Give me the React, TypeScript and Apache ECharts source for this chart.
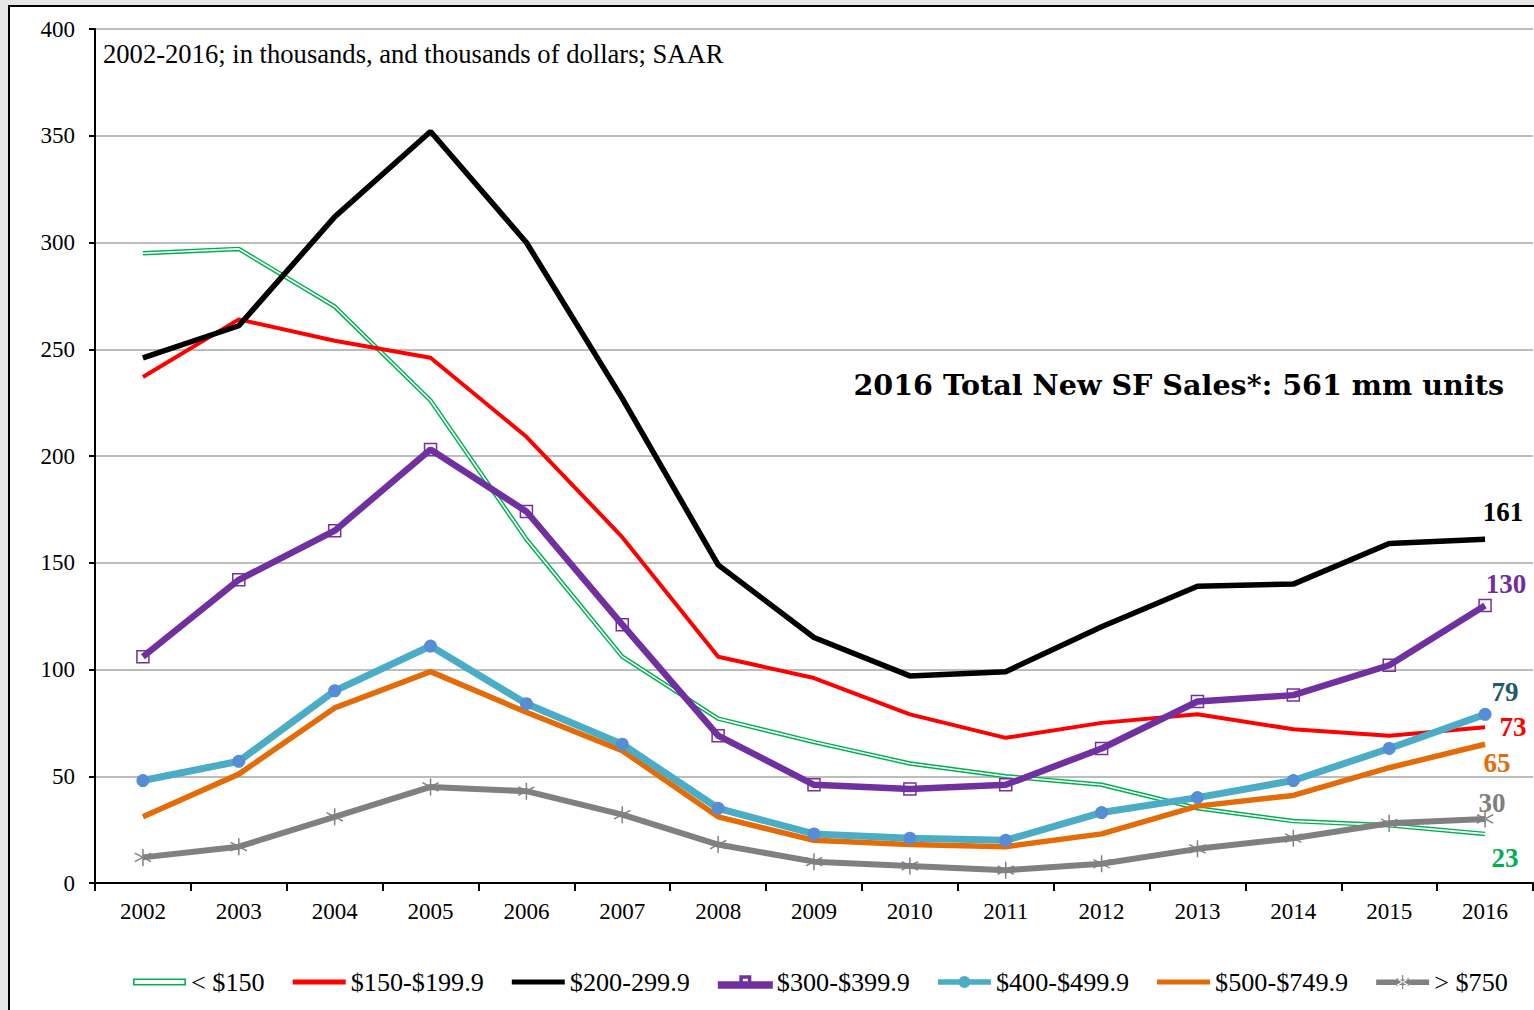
import React, { useEffect, useRef } from "react";
import * as echarts from "echarts";

const years = ["2002", "2003", "2004", "2005", "2006", "2007", "2008", "2009", "2010", "2011", "2012", "2013", "2014", "2015", "2016"];
const under150 = [295, 297, 270, 226, 161, 106, 77, 66, 56, 50, 46, 35, 29, 27, 23];
const r150to199 = [237, 264, 254, 246, 209, 162, 106, 96, 79, 68, 75, 79, 72, 69, 73];
const r200to299 = [246, 261, 312, 352, 300, 227, 149, 115, 97, 99, 120, 139, 140, 159, 161];
const r300to399 = [106, 142, 165, 203, 174, 121, 69, 46, 44, 46, 63, 85, 88, 102, 130];
const r400to499 = [48, 57, 90, 111, 84, 65, 35, 23, 21, 20, 33, 40, 48, 63, 79];
const r500to749 = [31, 51, 82, 99, 80, 62, 31, 20, 18, 17, 23, 36, 41, 54, 65];
const over750 = [12, 17, 31, 45, 43, 32, 18, 10, 8, 6, 9, 16, 21, 28, 30];
const yTicks = [0, 50, 100, 150, 200, 250, 300, 350, 400];

const subtitle = "2002-2016; in thousands, and thousands of dollars; SAAR";
const headline = "2016 Total New SF Sales*: 561 mm units";

const SERIF = "'Liberation Serif', 'Times New Roman', serif";

const ASTERISK =
  "path://M9.2,0H10.8V20H9.2Z M18.26,15.69L19.06,14.31L1.74,4.31L0.94,5.69Z M19.06,5.69L18.26,4.31L0.94,14.31L1.74,15.69Z";

const ICON_GREEN = "path://M0,0H53V7H0Z M1.6,1.6V5.4H51.4V1.6Z";
const ICON_LINE = "path://M0,0H53V5H0Z";
const ICON_PURPLE = "path://M0,6H53V11.5H0Z M21.5,0H31.5V10H21.5Z M23,1.5V8.5H30V1.5Z";
const ICON_CYAN = "path://M0,4.5H53V10H0Z M20.5,7.25A6,6 0 1 1 32.5,7.25A6,6 0 1 1 20.5,7.25Z";
const ICON_GREY =
  "path://M0,4.5H53V10H0Z M25.9,0H27.1V14H25.9Z M32.26,11.02L32.86,9.98L20.74,2.98L20.14,4.02Z M32.86,4.02L32.26,2.98L20.14,9.98L20.74,11.02Z";

function withEndLabel(values: number[], color: string, offset: [number, number], extra: any = {}) {
  return values.map((v, i) =>
    i === values.length - 1
      ? {
          value: v,
          ...extra,
          label: {
            show: true,
            position: "inside",
            offset,
            formatter: String(v),
            color,
            fontFamily: SERIF,
            fontWeight: "bold",
            fontSize: 27,
            align: "center",
            verticalAlign: "middle",
          },
        }
      : v
  );
}

export default function App() {
  const ref = useRef<HTMLDivElement>(null);

  useEffect(() => {
    if (!ref.current) return;
    const chart = echarts.init(ref.current, undefined, { renderer: "svg" });
    const hidden = { symbol: "circle", symbolSize: 0 };
    const option: any = {
      animation: false,
      backgroundColor: "transparent",
      textStyle: { fontFamily: SERIF },
      grid: { left: 95, right: 1, top: 29, bottom: 127, containLabel: false },
      legend: {
        left: 128,
        top: 964,
        itemWidth: 53,
        itemHeight: 14,
        itemGap: 28,
        textStyle: { fontFamily: SERIF, fontSize: 26.2, color: "#000" },
        data: [
          { name: "< $150", icon: ICON_GREEN, itemStyle: { color: "#00b050" } },
          { name: "$150-$199.9", icon: ICON_LINE, itemStyle: { color: "#ff0000" } },
          { name: "$200-299.9", icon: ICON_LINE, itemStyle: { color: "#000000" } },
          { name: "$300-$399.9", icon: ICON_PURPLE, itemStyle: { color: "#7030a0" } },
          { name: "$400-$499.9", icon: ICON_CYAN, itemStyle: { color: "#4bacc6" } },
          { name: "$500-$749.9", icon: ICON_LINE, itemStyle: { color: "#e36c09" } },
          { name: "> $750", icon: ICON_GREY, itemStyle: { color: "#808080" } },
        ],
      },
      xAxis: {
        type: "category",
        data: years,
        boundaryGap: true,
        axisLine: { show: true, lineStyle: { color: "#000", width: 2 } },
        axisTick: { show: true, interval: 0, length: 8, lineStyle: { color: "#000", width: 2 } },
        axisLabel: { interval: 0, margin: 17, fontSize: 23, color: "#000", fontFamily: SERIF },
        splitLine: { show: false },
      },
      yAxis: {
        type: "value",
        min: yTicks[0],
        max: yTicks[yTicks.length - 1],
        interval: 50,
        axisLine: { show: true, lineStyle: { color: "#000", width: 2 } },
        axisTick: { show: true, length: 6, inside: false, lineStyle: { color: "#000", width: 2 } },
        axisLabel: { margin: 20, fontSize: 23, color: "#000", fontFamily: SERIF },
        splitLine: { show: true, lineStyle: { color: "#a6a6a6", width: 1.5 } },
      },
      graphic: [
        {
          type: "text",
          left: 103,
          top: 40,
          style: { text: subtitle, fontFamily: SERIF, fontSize: 26.6, fill: "#000" },
        },
        {
          type: "text",
          right: 30,
          top: 370,
          style: {
            text: headline,
            fontFamily: "'DejaVu Serif', serif",
            fontWeight: "bold",
            fontSize: 28.6,
            fill: "#000",
          },
        },
      ],
      series: [
        {
          name: "< $150",
          type: "line",
          data: withEndLabel(under150, "#00b050", [20, 24], hidden),
          symbol: "none",
          itemStyle: { color: "#00b050" },
          lineStyle: { color: "#00b050", width: 4.5 },
          z: 2,
        },
        {
          name: "under150-inner",
          type: "line",
          data: under150,
          symbol: "none",
          silent: true,
          itemStyle: { color: "#ffffff" },
          lineStyle: { color: "#ffffff", width: 1.6 },
          z: 2,
        },
        {
          name: "$150-$199.9",
          type: "line",
          data: withEndLabel(r150to199, "#ff0000", [28, 0], hidden),
          symbol: "none",
          itemStyle: { color: "#ff0000" },
          lineStyle: { color: "#ff0000", width: 4 },
          z: 3,
        },
        {
          name: "$200-299.9",
          type: "line",
          data: withEndLabel(r200to299, "#000000", [18, -27], hidden),
          symbol: "none",
          itemStyle: { color: "#000000" },
          lineStyle: { color: "#000000", width: 5.5 },
          z: 4,
        },
        {
          name: "$300-$399.9",
          type: "line",
          data: withEndLabel(r300to399, "#7030a0", [21, -21]),
          symbol: "rect",
          symbolSize: 12,
          itemStyle: { color: "rgba(255,255,255,0)", borderColor: "#7030a0", borderWidth: 1.5 },
          lineStyle: { color: "#7030a0", width: 6.5 },
          z: 5,
        },
        {
          name: "$400-$499.9",
          type: "line",
          data: withEndLabel(r400to499, "#215968", [20, -22]),
          symbol: "circle",
          symbolSize: 13,
          itemStyle: { color: "#558ed5" },
          lineStyle: { color: "#4bacc6", width: 7 },
          z: 6,
        },
        {
          name: "$500-$749.9",
          type: "line",
          data: withEndLabel(r500to749, "#e36c09", [12, 19], hidden),
          symbol: "none",
          itemStyle: { color: "#e36c09" },
          lineStyle: { color: "#e36c09", width: 5.5 },
          z: 5,
        },
        {
          name: "> $750",
          type: "line",
          data: withEndLabel(over750, "#808080", [7, -16]),
          symbol: ASTERISK,
          symbolSize: 17,
          itemStyle: { color: "#808080" },
          lineStyle: { color: "#808080", width: 6 },
          z: 6,
        },
      ],
    };
    chart.setOption(option);
    return () => chart.dispose();
  }, []);

  return (
    <div style={{ position: "absolute", left: 0, top: 0, width: 1534, height: 1010, overflow: "hidden", background: "#e6e6e6" }}>
      <div
        style={{
          position: "absolute",
          left: 8,
          top: 5,
          width: 1560,
          height: 1040,
          background: "#ffffff",
          borderLeft: "2px solid #000",
          borderTop: "2px solid #000",
        }}
      />
      <div ref={ref} style={{ position: "absolute", left: 0, top: 0, width: 1534, height: 1010 }} />
    </div>
  );
}
